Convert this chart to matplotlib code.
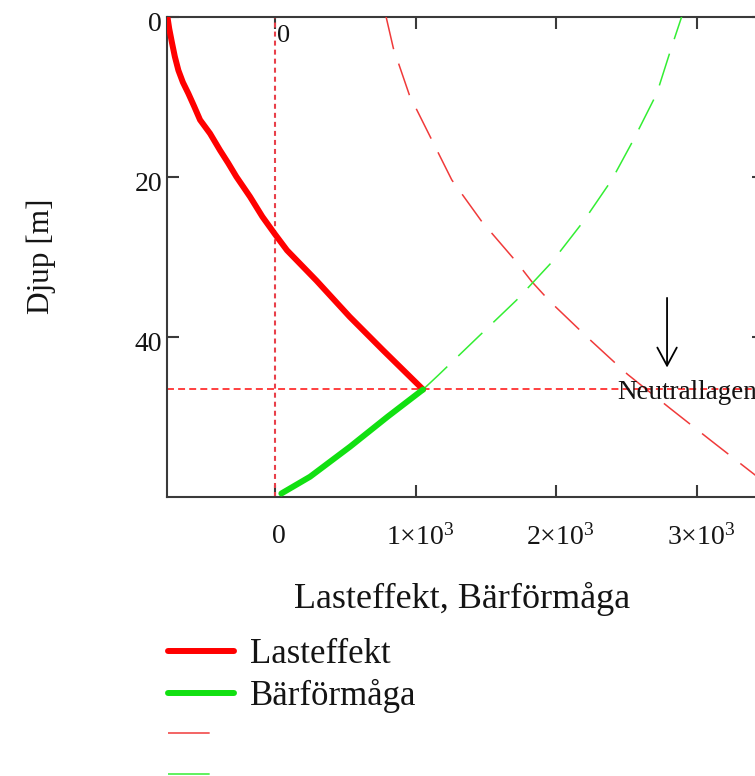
import numpy as np
import matplotlib.pyplot as plt
from matplotlib.transforms import ScaledTranslation

plt.rcParams.update({
    'font.family': ['Liberation Serif', 'DejaVu Serif'],
    'mathtext.fontset': 'custom',
    'mathtext.rm': 'Liberation Serif',
    'mathtext.it': 'Liberation Serif:italic',
    'lines.scale_dashes': False,
    'axes.linewidth': 1.5,
})

TEXT = '#141414'
AXIS = '#3a3a3a'
RED = '#ff0000'
GREEN = '#11e011'
RED_THIN = '#f03a3a'
GREEN_THIN = '#33ee33'

# Lasteffekt (load effect) vs depth, down to the neutral plane
last_djup = [0, 1.5, 3.3, 5.0, 6.7, 8.2, 9.6, 11.2, 12.9, 14.6, 16.7, 18.3, 20,
             22.5, 25, 27.2, 29.2, 33, 37.5, 41.7, 46.6]
last_varde = [-765, -752, -732, -712, -687, -655, -616, -575, -533, -462, -391,
              -333, -275, -178, -90, 0, 85, 295, 530, 768, 1052]

# Bärförmåga (bearing capacity) below the neutral plane
bar_djup = [46.6, 50, 53.75, 57.5, 59.6]
bar_varde = [1052, 800, 533, 249, 45]

# full-length curves shown dashed
last_hel_djup = [0, 3.95, 9.8, 15.4, 20.4, 25.6, 30.7, 33.1, 35.6, 40.2, 44.7, 48.95, 52.9, 56.8, 60]
last_hel_varde = [789, 841, 955, 1114, 1256, 1469, 1718, 1824, 1954, 2227, 2505, 2807, 3092, 3376, 3610]

bar_hel_djup = [46.6, 44.8, 40.2, 35.4, 30.7, 25.6, 20.4, 15.4, 9.6, 3.75, 0]
bar_hel_varde = [1052, 1161, 1433, 1718, 1966, 2191, 2393, 2547, 2713, 2819, 2890]

neutral_djup = 46.6
marker_x = 0

xticks = [0, 1000, 2000, 3000]
xticklabels = ['0', r'$1{\times}10^{3}$', r'$2{\times}10^{3}$', r'$3{\times}10^{3}$']
yticks = [0, 20, 40]

W, H = 755, 776
fig = plt.figure(figsize=(W / 100, H / 100), dpi=100)
ax = fig.add_axes([166.7 / W, 1 - 496.7 / H, (764 - 166.7) / W, (496.7 - 16.7) / H])

l1, = ax.plot(last_varde, last_djup, color=RED, lw=4.3, solid_capstyle='round',
              solid_joinstyle='round', label='Lasteffekt', zorder=4)
l2, = ax.plot(bar_varde, bar_djup, color=GREEN, lw=4.3, solid_capstyle='round',
              solid_joinstyle='round', label='Bärförmåga', zorder=4)
l3, = ax.plot(last_hel_varde, last_hel_djup, color=RED_THIN, lw=1.1,
              dashes=(24, 11), label=' ', zorder=3)
l4, = ax.plot(bar_hel_varde, bar_hel_djup, color=GREEN_THIN, lw=1.1,
              dashes=(24, 11), label=' ', zorder=3)

# markers
ax.axvline(marker_x, color='#e8404a', lw=1.5, dashes=(3.6, 2.9), zorder=2)
ax.axhline(neutral_djup, color='#ff3030', lw=1.3, dashes=(5, 3), zorder=2)
ax.text(marker_x + 12, 1.0, '0', ha='left', va='top', fontsize=19, color=TEXT)

ax.annotate('', xy=(2786, 44.2), xytext=(2786, 34.8),
            arrowprops=dict(arrowstyle='->,head_length=0.65,head_width=0.35',
                            lw=1.3, color='black', mutation_scale=20))
ax.text(2431, neutral_djup + 0.4, 'Neutrallagen', ha='left', va='center',
        fontsize=19.5, color=TEXT, zorder=5)

ax.set_xlim(-770, 3475)
ax.set_ylim(60, 0)

ax.set_xticks(xticks)
ax.set_xticklabels(xticklabels)
ax.set_yticks(yticks)
ax.tick_params(direction='in', length=8.5, width=1.5, color=AXIS,
               top=True, right=True, labelcolor=TEXT)
ax.tick_params(axis='x', pad=20, labelsize=20)
ax.tick_params(axis='y', pad=3.4, labelsize=20)
for s in ax.spines.values():
    s.set_color(AXIS)

for lab in ax.get_xticklabels():
    lab.set_transform(lab.get_transform() + ScaledTranslation(0.04, 0, fig.dpi_scale_trans))
for lab in ax.get_yticklabels():
    lab.set_transform(lab.get_transform() + ScaledTranslation(0, -0.045, fig.dpi_scale_trans))

ax.set_xlabel('Lasteffekt, Bärförmåga', fontsize=26, color=TEXT)
ax.xaxis.set_label_coords(0.494, (496.7 - 582) / 480)
ax.set_ylabel('Djup [m]', fontsize=22.5, color=TEXT)
ax.yaxis.set_label_coords((56 - 166.7) / 597.3, 0.5)

leg = ax.legend(handles=[l1, l2, l3, l4], loc='upper left',
                bbox_to_anchor=(168 / W, 1 - 638 / H), bbox_transform=fig.transFigure,
                frameon=False, fontsize=25, borderpad=0, borderaxespad=0,
                handlelength=1.9, handletextpad=0.45, labelspacing=0.22)
for t in leg.get_texts():
    t.set_color(TEXT)
for ln in leg.get_lines()[2:]:
    ln.set_dashes((30, 40))

fig.savefig('out.png', dpi=100)
